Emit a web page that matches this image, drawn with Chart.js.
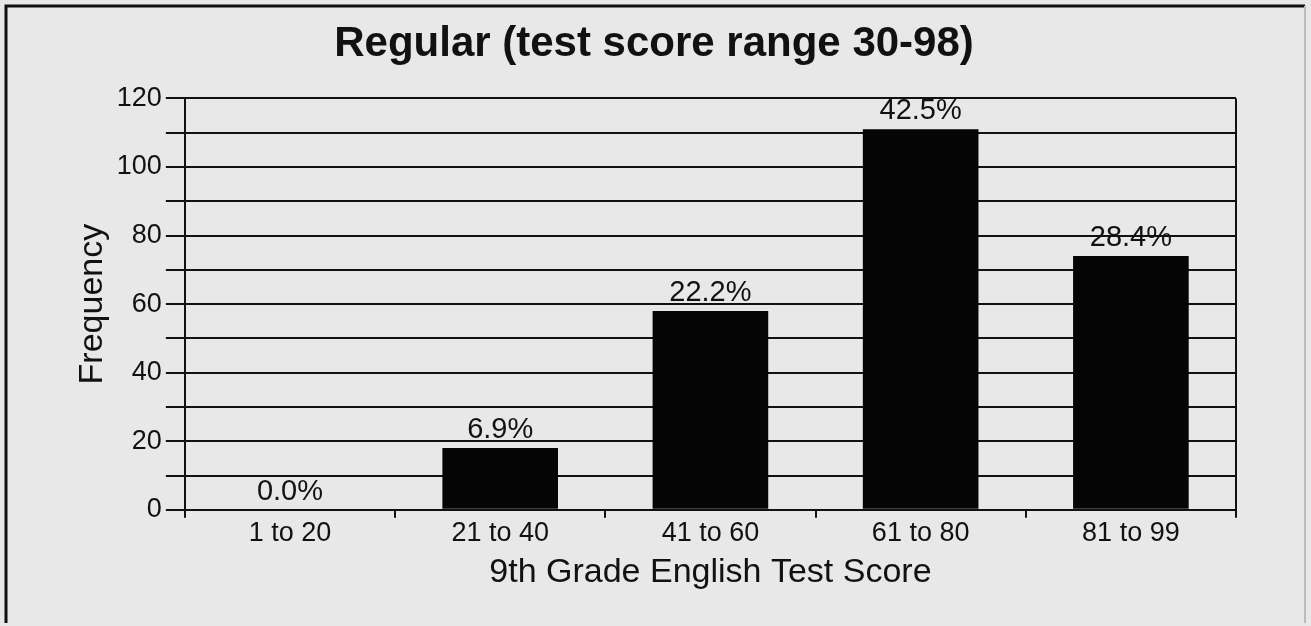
<!DOCTYPE html>
<html>
<head>
<meta charset="utf-8">
<script src="https://cdn.jsdelivr.net/npm/chart.js@4"></script>
<style>
  html, body { margin: 0; padding: 0; background: #e8e8e8; }
  #wrap { width: 1311px; height: 626px; }
</style>
</head>
<body>
<div id="wrap"><canvas id="grafico" width="1311" height="626"></canvas></div>
<script>
// datos
const categorias = ['1 to 20', '21 to 40', '41 to 60', '61 to 80', '81 to 99'];
const frecuencias = [0, 18, 58, 111, 74];
const porcentajes = ['0.0%', '6.9%', '22.2%', '42.5%', '28.4%'];
const marcasY = [0, 20, 40, 60, 80, 100, 120];

const fuente = '"Liberation Sans", Arial, Helvetica, sans-serif';

// fondo, marco exterior y borde derecho del área del gráfico
const marcoPlugin = {
    id: 'marco',
    beforeDraw(chart) {
        const ctx = chart.ctx;
        ctx.save();
        ctx.fillStyle = '#e8e8e8';
        ctx.fillRect(0, 0, chart.width, chart.height);
        ctx.strokeStyle = '#111';
        ctx.lineWidth = 3;
        ctx.beginPath();
        ctx.moveTo(6, chart.height - 3);
        ctx.lineTo(6, 6);
        ctx.lineTo(chart.width - 6, 6);
        ctx.stroke();
        ctx.strokeStyle = '#bbb';
        ctx.lineWidth = 2;
        ctx.beginPath();
        ctx.moveTo(chart.width - 6, 6);
        ctx.lineTo(chart.width - 6, chart.height - 3);
        ctx.stroke();
        ctx.restore();
    },
    afterDatasetsDraw(chart) {
        const ctx = chart.ctx;
        const area = chart.chartArea;
        ctx.save();
        ctx.strokeStyle = '#111';
        ctx.lineWidth = 2;
        ctx.beginPath();
        ctx.moveTo(area.right, area.top);
        ctx.lineTo(area.right, area.bottom);
        ctx.stroke();
        // etiquetas de porcentaje encima de cada barra
        ctx.fillStyle = '#111';
        ctx.font = '29px ' + fuente;
        ctx.textAlign = 'center';
        ctx.textBaseline = 'alphabetic';
        chart.getDatasetMeta(0).data.forEach(function(barra, i) {
            ctx.fillText(porcentajes[i], barra.x, barra.y - 10);
        });
        ctx.restore();
    }
};

const ctx = document.getElementById('grafico').getContext('2d');
const chart = new Chart(ctx, {
    type: 'bar',
    data: {
        labels: categorias,
        datasets: [{
            data: frecuencias,
            backgroundColor: '#050505',
            borderWidth: 0,
            barPercentage: 0.55,
            categoryPercentage: 1.0
        }]
    },
    options: {
        responsive: false,
        animation: false,
        layout: {
            padding: { left: 72, right: 75, top: 10, bottom: 33 }
        },
        plugins: {
            legend: { display: false },
            tooltip: { enabled: false },
            title: {
                display: true,
                text: 'Regular (test score range 30-98)',
                color: '#111',
                font: { family: fuente, size: 42, weight: 'bold' },
                padding: { top: 9, bottom: 29 }
            }
        },
        scales: {
            y: {
                min: 0,
                max: 120,
                ticks: {
                    stepSize: 10,
                    autoSkip: false,
                    color: '#111',
                    font: { family: fuente, size: 27 },
                    padding: 4,
                    callback: function(valor) {
                        return marcasY.includes(valor) ? valor : '';
                    }
                },
                grid: {
                    color: '#111',
                    lineWidth: 2,
                    tickLength: 19
                },
                border: { color: '#111', width: 2 },
                title: {
                    display: true,
                    text: 'Frequency',
                    color: '#111',
                    font: { family: fuente, size: 34 },
                    padding: { top: 0, bottom: 0 }
                }
            },
            x: {
                ticks: {
                    color: '#111',
                    font: { family: fuente, size: 27 },
                    padding: 0
                },
                grid: {
                    offset: true,
                    drawOnChartArea: false,
                    color: '#111',
                    lineWidth: 2,
                    tickLength: 8
                },
                border: { color: '#111', width: 2 },
                title: {
                    display: true,
                    text: '9th Grade English Test Score',
                    color: '#111',
                    font: { family: fuente, size: 34 },
                    padding: { top: 2, bottom: 0 }
                }
            }
        }
    },
    plugins: [marcoPlugin]
});
</script>
</body>
</html>
